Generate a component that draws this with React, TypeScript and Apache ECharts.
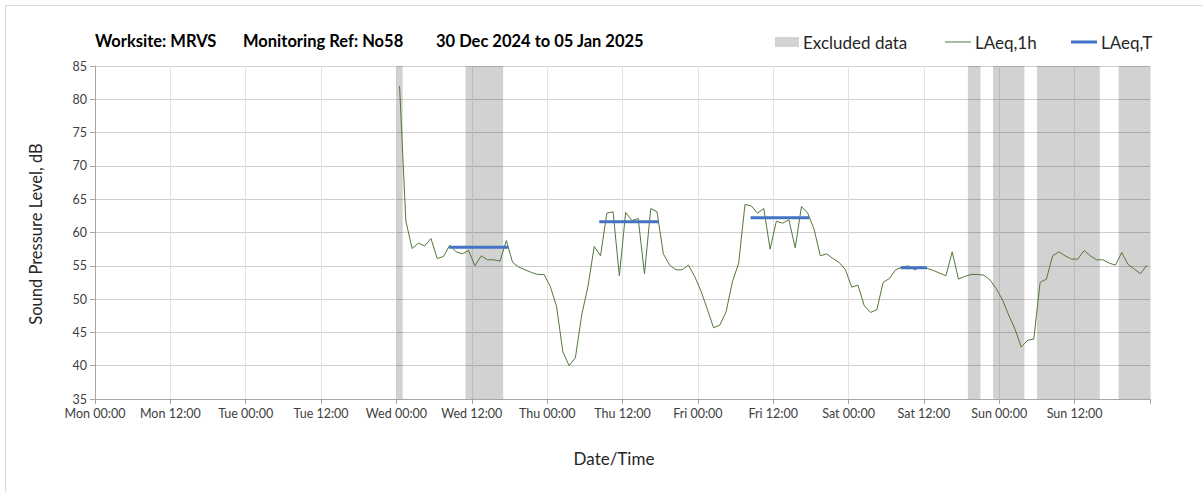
import React, { useEffect, useRef } from "react";
import * as echarts from "echarts";

// Hours from Mon 30 Dec 2024 00:00
const dayNames = ["Mon", "Tue", "Wed", "Thu", "Fri", "Sat", "Sun"];
const firstHour = 48; // Wed 00:00
// LAeq,1h values, one per hour from Wed 00:00 (plotted at the middle of each hour)
const laeq1h = [
  82.0, 61.7, 57.6, 58.4, 58.0, 59.1, 56.1, 56.4, 58.1, 57.1, 56.8, 57.3,
  55.0, 56.5, 55.9, 55.9, 55.7, 58.8, 55.5, 54.8, 54.4, 54.0, 53.7, 53.7,
  51.9, 48.9, 42.1, 40.0, 41.2, 47.6, 51.9, 57.9, 56.5, 62.9, 63.1, 53.5,
  63.0, 61.8, 62.1, 53.8, 63.6, 63.1, 56.8, 55.1, 54.4, 54.4, 55.1, 53.4,
  51.2, 48.5, 45.7, 46.1, 48.1, 52.6, 55.4, 64.2, 64.0, 62.9, 63.6, 57.5,
  61.7, 61.4, 61.9, 57.7, 63.9, 62.9, 60.5, 56.5, 56.8, 56.1, 55.5, 54.4,
  51.8, 52.1, 49.0, 48.0, 48.4, 52.5, 53.1, 54.4, 54.8, 55.0, 54.4, 54.8,
  54.6, 54.3, 53.9, 53.5, 57.1, 53.0, 53.4, 53.7, 53.7, 53.6, 52.9, 51.6,
  49.9, 47.6, 45.5, 42.8, 43.8, 44.0, 52.5, 53.0, 56.5, 57.1, 56.5, 56.0,
  56.0, 57.3, 56.5, 55.9, 55.9, 55.4, 55.1, 57.0, 55.2, 54.5, 53.8, 55.1,
];
// LAeq,T periods
const periodStart = [56.4, 80.3, 104.4, 128.3];
const periodEnd = [65.8, 89.7, 113.7, 132.5];
const periodLevel = [57.8, 61.6, 62.2, 54.7];
// Excluded data periods (hours)
const excludedStart = [48, 59, 139, 143, 150, 163];
const excludedEnd = [49, 65, 141, 148, 160, 168];

const FONT = "Lato, 'Open Sans', sans-serif";
const GREEN = "#52783a";
const BLUE = "#4472c4";
const BAND = "rgba(0,0,0,0.175)";

export default function App() {
  const ref = useRef<HTMLDivElement>(null);
  useEffect(() => {
    if (!ref.current) return;
    const chart = echarts.init(ref.current, undefined, { renderer: "svg" });
    const lineData = laeq1h.map((v, i) => [firstHour + i + 0.5, v]);
    const periodSeries = periodStart.map((s, i) => ({
      type: "line",
      name: "LAeq,T",
      data: [
        [s, periodLevel[i]],
        [periodEnd[i], periodLevel[i]],
      ],
      symbol: "none",
      lineStyle: { color: BLUE, width: 3 },
      z: 4,
    }));
    const titleFont = `bold 16.5px ${FONT}`;
    const legendFont = `17px ${FONT}`;
    chart.setOption({
      animation: false,
      grid: { left: 95, right: 53, top: 66, bottom: 93 },
      xAxis: {
        type: "value",
        min: 0,
        max: 168,
        interval: 12,
        axisLine: { show: true, lineStyle: { color: "#a6a6a6" } },
        axisTick: { show: true, length: 5, lineStyle: { color: "#a6a6a6" } },
        axisLabel: {
          color: "#404040",
          fontFamily: FONT,
          fontSize: 12.5,
          margin: 8,
          formatter: (v: number) =>
            v >= 168
              ? ""
              : `${dayNames[Math.floor(v / 24)]} ${v % 24 === 0 ? "00:00" : "12:00"}`,
        },
        splitLine: { show: true, lineStyle: { color: "#e3e3e3" } },
      },
      yAxis: {
        type: "value",
        min: 35,
        max: 85,
        interval: 5,
        axisLine: { show: true, lineStyle: { color: "#a6a6a6" } },
        axisTick: { show: true, length: 5, lineStyle: { color: "#a6a6a6" } },
        axisLabel: { color: "#404040", fontFamily: FONT, fontSize: 12.5, margin: 8 },
        splitLine: { show: true, lineStyle: { color: "#cfcfcf" } },
      },
      series: [
        {
          type: "line",
          name: "LAeq,1h",
          data: lineData,
          symbol: "none",
          lineStyle: { color: GREEN, width: 1 },
          z: 3,
          markArea: {
            silent: true,
            itemStyle: { color: BAND },
            data: excludedStart.map((s, i) => [{ xAxis: s }, { xAxis: excludedEnd[i] }]),
          },
        },
        ...periodSeries,
      ],
      graphic: [
        {
          type: "rect",
          shape: { x: 5.5, y: 5.5, width: 1210, height: 500 },
          style: { fill: "none", stroke: "#d9d9d9", lineWidth: 1 },
          silent: true,
        },
        {
          type: "text",
          x: 95,
          y: 41,
          style: { text: "Worksite: MRVS", font: titleFont, fill: "#000", verticalAlign: "middle" },
        },
        {
          type: "text",
          x: 243,
          y: 41,
          style: { text: "Monitoring Ref: No58", font: titleFont, fill: "#000", verticalAlign: "middle" },
        },
        {
          type: "text",
          x: 436,
          y: 41,
          style: {
            text: "30 Dec 2024 to 05 Jan 2025",
            font: titleFont,
            fill: "#000",
            verticalAlign: "middle",
          },
        },
        {
          type: "rect",
          shape: { x: 775, y: 37, width: 24, height: 10 },
          style: { fill: "#d3d3d3" },
        },
        {
          type: "text",
          x: 803,
          y: 42,
          style: { text: "Excluded data", font: legendFont, fill: "#262626", verticalAlign: "middle" },
        },
        {
          type: "line",
          shape: { x1: 945, y1: 42, x2: 971, y2: 42 },
          style: { stroke: GREEN, lineWidth: 1 },
        },
        {
          type: "text",
          x: 975,
          y: 42,
          style: { text: "LAeq,1h", font: legendFont, fill: "#262626", verticalAlign: "middle" },
        },
        {
          type: "line",
          shape: { x1: 1071, y1: 42, x2: 1097, y2: 42 },
          style: { stroke: BLUE, lineWidth: 3 },
        },
        {
          type: "text",
          x: 1101,
          y: 42,
          style: { text: "LAeq,T", font: legendFont, fill: "#262626", verticalAlign: "middle" },
        },
        {
          type: "text",
          x: 36,
          y: 234,
          rotation: Math.PI / 2,
          style: {
            text: "Sound Pressure Level, dB",
            font: `16.5px ${FONT}`,
            fill: "#262626",
            align: "center",
            verticalAlign: "middle",
          },
        },
        {
          type: "text",
          x: 614,
          y: 458,
          style: {
            text: "Date/Time",
            font: `17px ${FONT}`,
            fill: "#262626",
            align: "center",
            verticalAlign: "middle",
          },
        },
      ],
    });
    return () => chart.dispose();
  }, []);
  return (
    <div
      ref={ref}
      style={{ position: "absolute", left: 0, top: 0, width: 1203, height: 492, background: "#fff" }}
    />
  );
}
